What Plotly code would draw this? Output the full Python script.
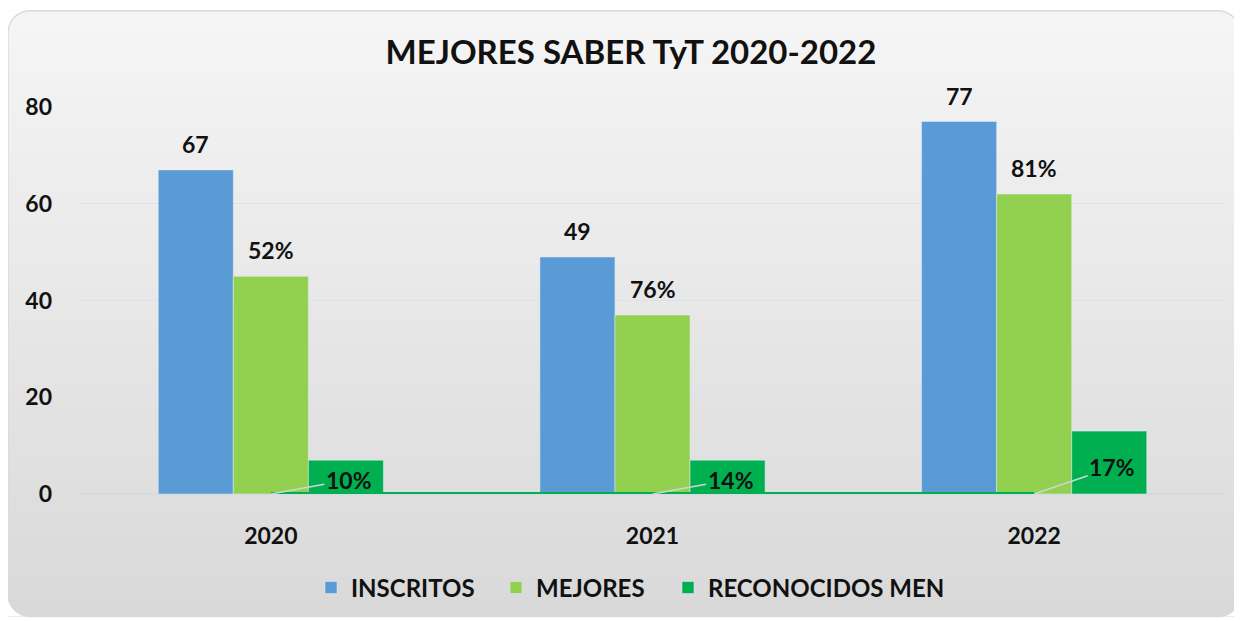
import plotly.graph_objects as go

# ---- data ----
anios = ["2020", "2021", "2022"]
inscritos = [67, 49, 77]
mejores = [45, 37, 62]
mejores_pct = ["52%", "76%", "81%"]
reconocidos = [7, 7, 13]
reconocidos_pct = ["10%", "14%", "17%"]
linea_base = [0, 0, 0]
y_ticks = [0, 20, 40, 60, 80]

O = 8  # page body margin
W, H = 1234, 613
# plot area in page pixels: x 80..1225, y 106.5..495
L, R = 80 - O, W - (1225 - O)
T, B = 106.5 - O, H - (495 - O)
pw, ph = W - L - R, H - T - B

def px(x):  # page x -> paper
    return (x - O - L) / pw

def py(y):  # page y -> paper
    return (H - B - (y - O)) / ph

FONT = "Lato"
BLUE = "#5b9bd5"
LGREEN = "#92d050"
DGREEN = "#00b050"
BOLD = dict(family=FONT, size=23, color="#111", weight="bold")
LEGFONT = dict(family=FONT, size=24, color="#111", weight="bold")
BARGAP = 0.41
bw = (1 - BARGAP) / 3  # bar width in category units

fig = go.Figure()

fig.add_trace(go.Bar(name="INSCRITOS", x=anios, y=inscritos, marker_color=BLUE,
                     legend="legend"))
fig.add_trace(go.Bar(name="MEJORES", x=anios, y=mejores, marker_color=LGREEN,
                     legend="legend2"))
fig.add_trace(go.Bar(name="RECONOCIDOS MEN", x=anios, y=reconocidos, marker_color=DGREEN,
                     legend="legend3"))
fig.add_trace(go.Scatter(x=anios, y=linea_base, mode="lines", showlegend=False,
                         line=dict(color=DGREEN, width=4), hoverinfo="skip"))

# value labels above bars
for i, (v, m, mp) in enumerate(zip(inscritos, mejores, mejores_pct)):
    fig.add_annotation(x=i - bw, y=v, text=str(v), showarrow=False, yshift=26,
                       yanchor="middle", font=BOLD)
    fig.add_annotation(x=i, y=m, text=mp, showarrow=False, yshift=26,
                       yanchor="middle", font=BOLD)

# labels of RECONOCIDOS with leader lines from the baseline
for i, (v, t) in enumerate(zip(reconocidos, reconocidos_pct)):
    fig.add_annotation(x=i, y=0, text=t, showarrow=True, arrowhead=0,
                       arrowcolor="#cfd4d8", arrowwidth=1.5,
                       ax=78, ay=-(v * ph / 80) * 0.42, standoff=0,
                       font=BOLD)

# background: gradient strips + rounded corners (page px)
x0, x1, y0, y1, rr = 8, 1240, 10, 618, 22
n = 60
top = (245, 245, 245)
bot = (217, 217, 217)
shapes = []
for i in range(n):
    f = i / (n - 1)
    c = tuple(int(round(top[k] + (bot[k] - top[k]) * f)) for k in range(3))
    ya = y0 + (y1 - y0) * i / n
    yb = y0 + (y1 - y0) * (i + 1) / n + 0.5
    shapes.append(dict(type="rect", xref="paper", yref="paper", layer="below",
                       x0=px(x0), x1=px(x1), y0=py(ya), y1=py(yb),
                       fillcolor="rgb(%d,%d,%d)" % c, line_width=0))

k = 0.45
for (cx, cy, sx, sy) in [(x0, y0, 1, 1), (x1, y0, -1, 1), (x0, y1, 1, -1), (x1, y1, -1, -1)]:
    p1 = (cx + sx * rr, cy)
    p2 = (cx, cy + sy * rr)
    path = "M %f,%f L %f,%f C %f,%f %f,%f %f,%f Z" % (
        px(cx), py(cy), px(p1[0]), py(p1[1]),
        px(cx + sx * rr * k), py(cy), px(cx), py(cy + sy * rr * k),
        px(p2[0]), py(p2[1]))
    shapes.append(dict(type="path", xref="paper", yref="paper", layer="below",
                       path=path, fillcolor="white", line_width=0))

def rpath():
    pts = []
    pts.append("M %f,%f" % (px(x0 + rr), py(y0)))
    pts.append("L %f,%f" % (px(x1 - rr), py(y0)))
    pts.append("C %f,%f %f,%f %f,%f" % (px(x1 - rr * k), py(y0), px(x1), py(y0 + rr * k), px(x1), py(y0 + rr)))
    pts.append("L %f,%f" % (px(x1), py(y1 - rr)))
    pts.append("C %f,%f %f,%f %f,%f" % (px(x1), py(y1 - rr * k), px(x1 - rr * k), py(y1), px(x1 - rr), py(y1)))
    pts.append("L %f,%f" % (px(x0 + rr), py(y1)))
    pts.append("C %f,%f %f,%f %f,%f" % (px(x0 + rr * k), py(y1), px(x0), py(y1 - rr * k), px(x0), py(y1 - rr)))
    pts.append("L %f,%f" % (px(x0), py(y0 + rr)))
    pts.append("C %f,%f %f,%f %f,%f" % (px(x0), py(y0 + rr * k), px(x0 + rr * k), py(y0), px(x0 + rr), py(y0)))
    pts.append("Z")
    return " ".join(pts)

shapes.append(dict(type="path", xref="paper", yref="paper", layer="below",
                   path=rpath(), line=dict(color="#d5dbe3", width=1.5)))

def leg(xpage):
    return dict(orientation="h", x=px(xpage), xanchor="left", y=py(588), yanchor="middle",
                font=LEGFONT, bgcolor="rgba(0,0,0,0)", itemwidth=30)

fig.update_layout(
    width=W, height=H,
    margin=dict(l=L, r=R, t=T, b=B),
    paper_bgcolor="white",
    plot_bgcolor="rgba(0,0,0,0)",
    barmode="group", bargap=BARGAP, bargroupgap=0,
    shapes=shapes,
    title=dict(text="MEJORES SABER TyT 2020-2022", x=px(631), xanchor="center",
               y=1 - (52 - O) / H, yanchor="middle", xref="paper",
               font=dict(family=FONT, size=33, color="#111", weight="bold")),
    font=dict(family=FONT, color="#222"),
    showlegend=True,
    legend=leg(311),
    legend2=leg(496),
    legend3=leg(668),
    xaxis=dict(type="category", range=[-0.5, len(anios) - 0.5], showgrid=False,
               showline=False, ticks="", tickfont=BOLD, ticklabelstandoff=26),
    yaxis=dict(range=[0, 80], tickvals=y_ticks, showline=False, ticks="",
               gridcolor="#dae3ec", gridwidth=1.2, zeroline=True, zerolinecolor="#d3dbe3",
               zerolinewidth=1.5, tickfont=BOLD, ticklabelstandoff=27),
)

fig.write_html("out.html")
